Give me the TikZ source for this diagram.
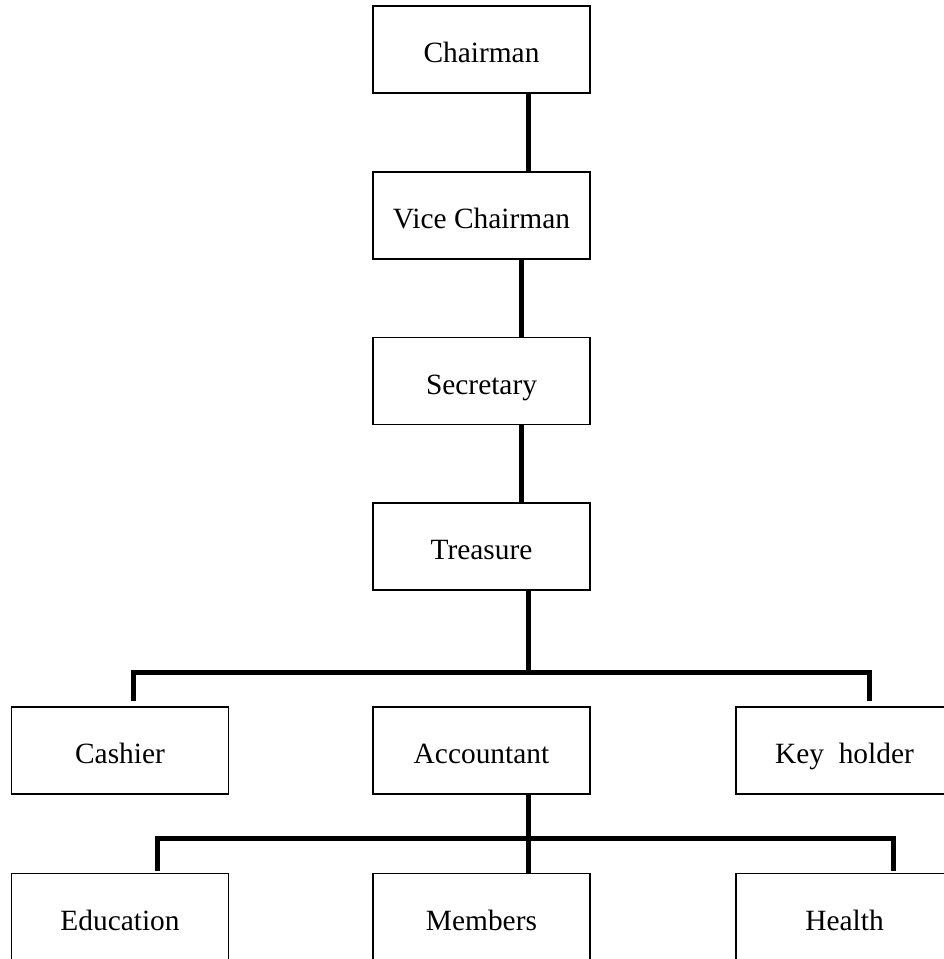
\documentclass[tikz,border=0pt]{standalone}
\usepackage{fontspec}
\setmainfont{Liberation Serif}
\begin{document}
\begin{tikzpicture}[x=1pt,y=-1pt,
  box/.style={draw, line width=1.6pt, minimum width=217pt, minimum height=87pt, inner sep=0pt, text height=26pt, text depth=0pt, font=\fontsize{29.4}{35}\selectfont},
  link/.style={line width=5pt, line join=miter}]
\clip (0,0) rectangle (944,959);
\fill[white] (0,0) rectangle (944,959);
% column nodes
\node[box] (chair) at (481.5,49.5) {Chairman};
\node[box] (vice)  at (481.5,215.5) {Vice Chairman};
\node[box] (sec)   at (481.5,381) {Secretary};
\node[box] (treas) at (481.5,546.5) {Treasure};
% second level
\node[box] (cash) at (120,750.5) {Cashier};
\node[box] (acc)  at (481.5,750.5) {Accountant};
\node[box] (key)  at (844.5,750.5) {Key\ \ holder};
% third level (cut off at the lower edge)
\node[box] (edu) at (120,917) {Education};
\node[box] (mem) at (481.5,917) {Members};
\node[box] (hea) at (844.5,917) {Health};
% helper coordinates
\coordinate (xa) at (528,0);
\coordinate (xb) at (521,0);
\coordinate (b1c) at (528,672);
\coordinate (b1r) at (869,672);
\coordinate (c1) at (133,701);
\coordinate (k1) at (869,701);
\coordinate (b2r) at (893,838);
\coordinate (e1) at (157,871);
\coordinate (h1) at (893,871);
% connectors
\draw[link] (chair.south -| xa) -- (vice.north -| xa);
\draw[link] (vice.south -| xb) -- (sec.north -| xb);
\draw[link] (sec.south -| xb) -- (treas.north -| xb);
\draw[link] (treas.south -| xa) -- (b1c);
\draw[link] (c1) |- (b1r) -- (k1);
\draw[link] (acc.south -| xa) -- (mem.north -| xa);
\draw[link] (e1) |- (b2r) -- (h1);
\end{tikzpicture}
\end{document}
